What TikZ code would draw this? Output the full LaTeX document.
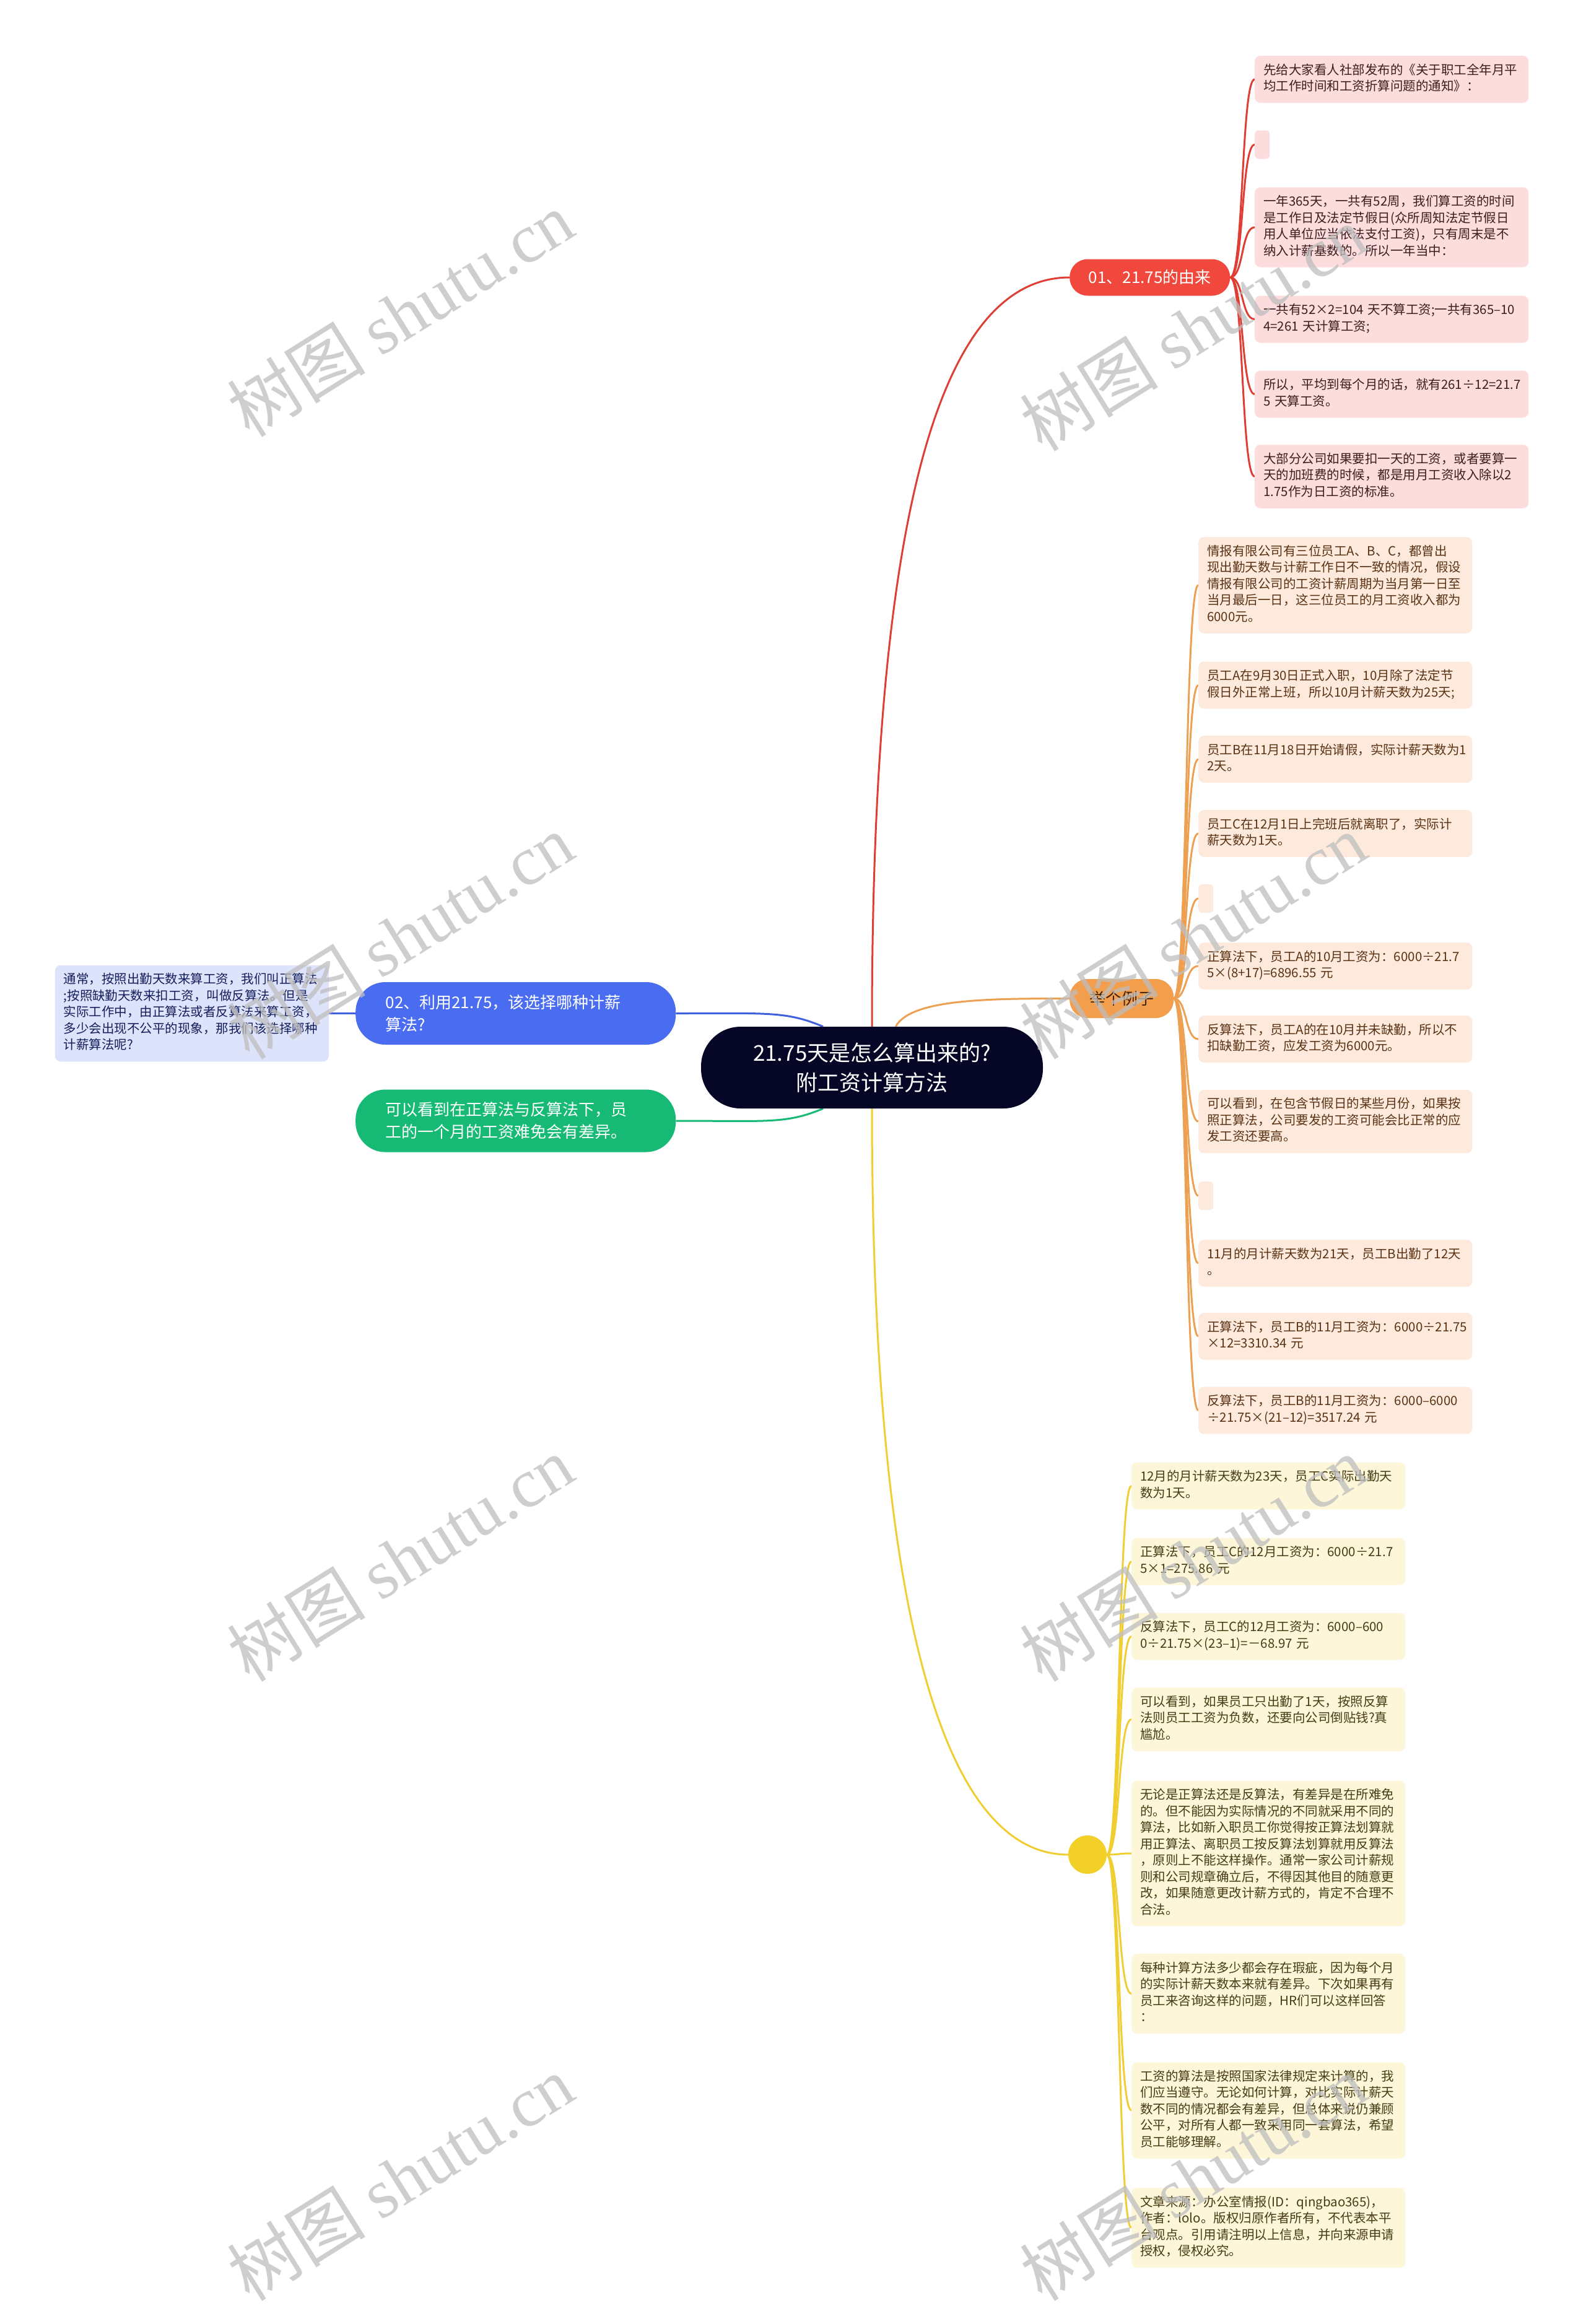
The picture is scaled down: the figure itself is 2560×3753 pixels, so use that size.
\documentclass[tikz,border=0pt]{standalone}
\usepackage{fontspec}
\setmainfont{Noto Sans CJK SC}
\newfontfamily\wmlatin{Liberation Serif}
\usetikzlibrary{backgrounds}
\definecolor{cnavy}{RGB}{6,6,38}
\definecolor{cred}{RGB}{240,72,60}
\definecolor{credline}{RGB}{222,62,52}
\definecolor{credleaf}{RGB}{252,220,220}
\definecolor{credtext}{RGB}{60,30,30}
\definecolor{corange}{RGB}{242,158,76}
\definecolor{corangeline}{RGB}{238,160,82}
\definecolor{corangeleaf}{RGB}{253,234,220}
\definecolor{corangetext}{RGB}{90,50,20}
\definecolor{cyellow}{RGB}{242,208,40}
\definecolor{cyellowline}{RGB}{240,206,50}
\definecolor{cyellowleaf}{RGB}{253,246,216}
\definecolor{cyellowtext}{RGB}{70,60,20}
\definecolor{cblue}{RGB}{74,108,240}
\definecolor{cblueline}{RGB}{64,96,222}
\definecolor{cblueleaf}{RGB}{221,227,251}
\definecolor{cbluetext}{RGB}{20,30,90}
\definecolor{cgreen}{RGB}{22,186,116}
\definecolor{cwm}{RGB}{190,190,190}
\begin{document}
\begin{tikzpicture}[x=1pt,y=-1pt,
  conn/.style={line width=3pt},
  centerbox/.style={fill=cnavy, rounded corners=64pt, minimum width=552pt, minimum height=132pt, inner sep=0pt, text=white, align=center, font=\fontsize{35}{48}\selectfont},
  pillbox/.style={rounded corners=29pt, inner sep=0pt, font=\fontsize{26}{32}\selectfont},
  widepill/.style={rounded corners=48pt, minimum height=101pt, text width=420pt, inner xsep=48.5pt, inner ysep=0pt, align=left, text=white, font=\fontsize{26}{36}\selectfont},
  leafbase/.style={rounded corners=9pt, text width=414pt, inner xsep=14pt, inner ysep=11.5pt, align=left, font=\fontsize{20.5}{26.5}\selectfont, anchor=west, execute at begin node=\strut, execute at end node=\strut},
  emptyleaf/.style={rounded corners=6pt, minimum width=24pt, minimum height=46pt, inner sep=0pt, anchor=west},
  redleaf/.style={leafbase, fill=credleaf, text=credtext},
  orangeleaf/.style={leafbase, fill=corangeleaf, text=corangetext},
  yellowleaf/.style={leafbase, fill=cyellowleaf, text=cyellowtext},
  wmark/.style={text=cwm, text opacity=0.75, rotate=32, font=\fontsize{112}{120}\selectfont}
]
\useasboundingbox (0,0) rectangle (2560,3753);

% central topic
\node[centerbox] (center) at (1408,1724) {21.75天是怎么算出来的?\\附工资计算方法};

% main branches
\node[pillbox, fill=cred, text=white, minimum width=259pt, minimum height=59pt, anchor=west] (red) at (1727,448) {01、21.75的由来};
\node[pillbox, fill=corange, text=corangetext!70!black, minimum width=168pt, minimum height=63pt, anchor=west] (orange) at (1727,1612.5) {举个例子};
\node[circle, fill=cyellow, minimum size=62pt, inner sep=0pt] (ycirc) at (1756,2995) {};
\node[widepill, fill=cblue, anchor=west] (blue) at (574,1636.5) {02、利用21.75，该选择哪种计薪\\算法?};
\node[widepill, fill=cgreen, anchor=west] (green) at (574,1810) {可以看到在正算法与反算法下，员\\工的一个月的工资难免会有差异。};
\node[leafbase, fill=cblueleaf, text=cbluetext, anchor=east] (bleaf) at (531,1636.5) {通常，按照出勤天数来算工资，我们叫正算法\\;按照缺勤天数来扣工资，叫做反算法。但是\\实际工作中，由正算法或者反算法来算工资，\\多少会出现不公平的现象，那我们该选择哪种\\计薪算法呢?};

% red leaves
\node[redleaf] (r1) at (2026,128) {先给大家看人社部发布的《关于职工全年月平\\均工作时间和工资折算问题的通知》：};
\node[emptyleaf, fill=credleaf] (r2) at (2026,233.5) {};
\node[redleaf] (r3) at (2026,367) {一年365天，一共有52周，我们算工资的时间\\是工作日及法定节假日(众所周知法定节假日\\用人单位应当依法支付工资)，只有周末是不\\纳入计薪基数的。所以一年当中：};
\node[redleaf] (r4) at (2026,515.5) {一共有52×2=104 天不算工资;一共有365–10\\4=261 天计算工资;};
\node[redleaf] (r5) at (2026,636.5) {所以，平均到每个月的话，就有261÷12=21.7\\5 天算工资。};
\node[redleaf] (r6) at (2026,769.5) {大部分公司如果要扣一天的工资，或者要算一\\天的加班费的时候，都是用月工资收入除以2\\1.75作为日工资的标准。};

% orange leaves
\node[orangeleaf] (o1) at (1935,945) {情报有限公司有三位员工A、B、C，都曾出\\现出勤天数与计薪工作日不一致的情况，假设\\情报有限公司的工资计薪周期为当月第一日至\\当月最后一日，这三位员工的月工资收入都为\\6000元。};
\node[orangeleaf] (o2) at (1935,1106.5) {员工A在9月30日正式入职，10月除了法定节\\假日外正常上班，所以10月计薪天数为25天;};
\node[orangeleaf] (o3) at (1935,1226) {员工B在11月18日开始请假，实际计薪天数为1\\2天。};
\node[orangeleaf] (o4) at (1935,1346) {员工C在12月1日上完班后就离职了，实际计\\薪天数为1天。};
\node[emptyleaf, fill=corangeleaf] (o5) at (1935,1451) {};
\node[orangeleaf] (o6) at (1935,1560) {正算法下，员工A的10月工资为：6000÷21.7\\5×(8+17)=6896.55 元};
\node[orangeleaf] (o7) at (1935,1678) {反算法下，员工A的在10月并未缺勤，所以不\\扣缺勤工资，应发工资为6000元。};
\node[orangeleaf] (o8) at (1935,1811) {可以看到，在包含节假日的某些月份，如果按\\照正算法，公司要发的工资可能会比正常的应\\发工资还要高。};
\node[emptyleaf, fill=corangeleaf] (o9) at (1935,1931) {};
\node[orangeleaf] (o10) at (1935,2040) {11月的月计薪天数为21天，员工B出勤了12天\\。};
\node[orangeleaf] (o11) at (1935,2158) {正算法下，员工B的11月工资为：6000÷21.75\\×12=3310.34 元};
\node[orangeleaf] (o12) at (1935,2277.5) {反算法下，员工B的11月工资为：6000–6000\\÷21.75×(21–12)=3517.24 元};

% yellow leaves
\node[yellowleaf] (y1) at (1827,2399.5) {12月的月计薪天数为23天，员工C实际出勤天\\数为1天。};
\node[yellowleaf] (y2) at (1827,2521.5) {正算法下，员工C的12月工资为：6000÷21.7\\5×1=275.86 元};
\node[yellowleaf] (y3) at (1827,2642.5) {反算法下，员工C的12月工资为：6000–600\\0÷21.75×(23–1)=－68.97 元};
\node[yellowleaf] (y4) at (1827,2776.5) {可以看到，如果员工只出勤了1天，按照反算\\法则员工工资为负数，还要向公司倒贴钱?真\\尴尬。};
\node[yellowleaf] (y5) at (1827,2993) {无论是正算法还是反算法，有差异是在所难免\\的。但不能因为实际情况的不同就采用不同的\\算法，比如新入职员工你觉得按正算法划算就\\用正算法、离职员工按反算法划算就用反算法\\，原则上不能这样操作。通常一家公司计薪规\\则和公司规章确立后，不得因其他目的随意更\\改，如果随意更改计薪方式的，肯定不合理不\\合法。};
\node[yellowleaf] (y6) at (1827,3219.5) {每种计算方法多少都会存在瑕疵，因为每个月\\的实际计薪天数本来就有差异。下次如果再有\\员工来咨询这样的问题，HR们可以这样回答\\：};
\node[yellowleaf] (y7) at (1827,3408) {工资的算法是按照国家法律规定来计算的，我\\们应当遵守。无论如何计算，对比实际计薪天\\数不同的情况都会有差异，但总体来说仍兼顾\\公平，对所有人都一致采用同一套算法，希望\\员工能够理解。};
\node[yellowleaf] (y8) at (1827,3597.5) {文章来源：办公室情报(ID：qingbao365)，\\作者：lolo。版权归原作者所有，不代表本平\\台观点。引用请注明以上信息，并向来源申请\\授权，侵权必究。};

\begin{pgfonlayer}{background}
\fill[white] (0,0) rectangle (2560,3753);
% main connectors
\draw[conn, credline] (center.north) .. controls +(0,-760) and +(-227,0) .. (red.west);
\draw[conn, cyellowline] (center.south) .. controls +(0,710) and +(-227,0) .. (ycirc.west);
\draw[conn, corangeline] (center.60) .. controls +(25,-45) and +(-130,0) .. (orange.west);
\draw[conn, cblueline] (blue.east) .. controls +(150,0) and +(-60,-25) .. (center.140);
\draw[conn, cgreen] (green.east) .. controls +(150,0) and +(-60,25) .. (center.220);
\draw[conn, cblueline] (blue.west) -- (bleaf.east);
% sub connectors
\foreach \n in {r1,r2,r3,r4,r5,r6}
  \draw[conn, credline] (red.east) .. controls +(22,0) and +(-22,0) .. (\n.west);
\foreach \n in {o1,o2,o3,o4,o5,o6,o7,o8,o9,o10,o11,o12}
  \draw[conn, corangeline] (orange.east) .. controls +(22,0) and +(-22,0) .. (\n.west);
\foreach \n in {y1,y2,y3,y4,y5,y6,y7,y8}
  \draw[conn, cyellowline] (ycirc.east) .. controls +(22,0) and +(-22,0) .. (\n.west);
\end{pgfonlayer}

% watermarks
\node[wmark] (wm1) at (646,507) {树图 {\wmlatin shutu.cn}};
\node[wmark] (wm2) at (1926,530) {树图 {\wmlatin shutu.cn}};
\node[wmark] (wm3) at (646,1512) {树图 {\wmlatin shutu.cn}};
\node[wmark] (wm4) at (1926,1512) {树图 {\wmlatin shutu.cn}};
\node[wmark] (wm5) at (646,2517) {树图 {\wmlatin shutu.cn}};
\node[wmark] (wm6) at (1926,2517) {树图 {\wmlatin shutu.cn}};
\node[wmark] (wm7) at (646,3517) {树图 {\wmlatin shutu.cn}};
\node[wmark] (wm8) at (1926,3517) {树图 {\wmlatin shutu.cn}};
\end{tikzpicture}
\end{document}
